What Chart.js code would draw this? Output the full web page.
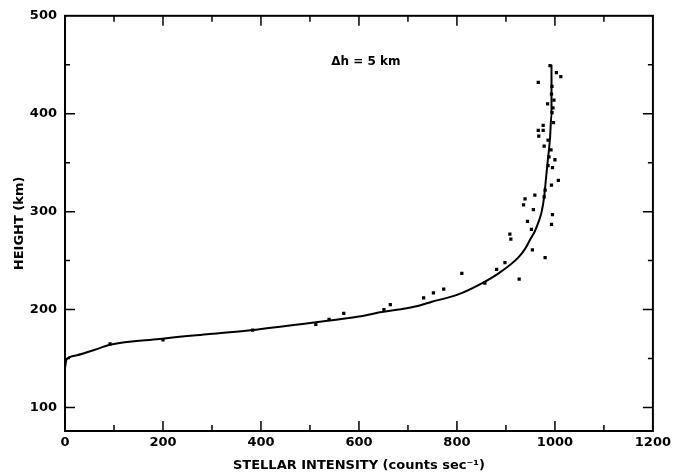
<!DOCTYPE html>
<html>
<head>
<meta charset="utf-8">
<script src="https://cdn.jsdelivr.net/npm/chart.js@4/dist/chart.umd.min.js"></script>
<style>
  html, body { margin: 0; padding: 0; background: #fff; }
  #wrap { width: 675px; height: 473px; }
</style>
</head>
<body>
<div id="wrap"><canvas id="heightChart"></canvas></div>
<script>
// measured points (intensity, height)
const obsX = [990, 1003, 1012, 966, 994, 993, 998, 985, 996, 994, 997, 976, 966, 976, 967, 986, 978, 992, 988, 1000, 986, 995, 1007, 993, 980, 978,
              959, 939, 936, 956, 995, 993, 944, 952, 954, 980, 927, 908, 910, 898, 881, 810, 773, 752, 732,
              857, 664, 651, 569, 539, 512, 383, 200, 92];
const obsY = [449, 442, 438, 432, 428, 420, 414, 410, 406, 401, 391, 388, 383, 383, 377, 373, 367, 363, 356, 353, 347, 345, 332, 327, 322, 315,
              317, 313, 307, 302, 297, 287, 290, 282, 261, 253, 231, 277, 272, 248, 241, 237, 221, 217, 212,
              227, 205, 200, 196, 190, 185, 179, 169, 165];

// fitted curve
const fitX = [0, 3, 17, 58, 92, 193, 295, 390, 512, 600, 647, 681, 722, 749, 800, 844, 885, 925, 939, 950, 959, 967, 973, 978, 981, 985, 990, 993, 993];
const fitY = [140, 149, 152.5, 158.5, 164, 170, 175, 179.5, 187, 193, 197.5, 200, 204, 208, 215, 225, 237, 253, 262, 272, 280, 290, 300, 315, 330, 350, 375, 400, 450];

const xTicks = [0, 200, 400, 600, 800, 1000, 1200];
const yTicks = [100, 200, 300, 400, 500];

const note = { x: 614, y: 453, text: "\u0394h = 5 km" };

const font = "'DejaVu Sans', sans-serif";

// inward ticks on all four sides + label
const framePlugin = {
    id: "frame",
    afterDraw(chart) {
        const ctx = chart.ctx, xs = chart.scales.x, ys = chart.scales.y, a = chart.chartArea;
        ctx.save();
        ctx.strokeStyle = "#000";
        ctx.lineWidth = 2;
        ctx.strokeRect(a.left, a.top, a.right - a.left, a.bottom - a.top);
        ctx.lineWidth = 1.5;
        for (let v = 100; v < 1200; v += 100) {
            const p = xs.getPixelForValue(v), len = v % 200 == 0 ? 10 : 6;
            ctx.beginPath();
            ctx.moveTo(p, a.bottom); ctx.lineTo(p, a.bottom - len);
            ctx.moveTo(p, a.top); ctx.lineTo(p, a.top + len);
            ctx.stroke();
        }
        for (let v = 100; v < 500; v += 50) {
            const p = ys.getPixelForValue(v), len = v % 100 == 0 ? 10 : 5;
            ctx.beginPath();
            ctx.moveTo(a.left, p); ctx.lineTo(a.left + len, p);
            ctx.moveTo(a.right, p); ctx.lineTo(a.right - len, p);
            ctx.stroke();
        }
        ctx.fillStyle = "#000";
        ctx.font = "bold 12px " + font;
        ctx.textAlign = "center";
        ctx.textBaseline = "middle";
        ctx.fillText(note.text, xs.getPixelForValue(note.x), ys.getPixelForValue(note.y));
        ctx.restore();
    }
};

const heightChart = new Chart("heightChart", {
    type: "scatter",
    data: {
        datasets: [{
            label: "fit",
            type: "line",
            data: fitX.map((x, i) => ({ x: x, y: fitY[i] })),
            borderColor: "#000",
            borderWidth: 2,
            pointRadius: 0,
            cubicInterpolationMode: "monotone",
            fill: false
        }, {
            label: "observed",
            data: obsX.map((x, i) => ({ x: x, y: obsY[i] })),
            pointStyle: "rect",
            pointRadius: 2.3,
            backgroundColor: "#000",
            borderColor: "#000",
            borderWidth: 0
        }]
    },
    options: {
        responsive: true,
        maintainAspectRatio: false,
        animation: false,
        layout: { padding: { top: 15, right: 20, left: 12, bottom: 0 } },
        plugins: { legend: { display: false }, tooltip: { enabled: false } },
        scales: {
            x: {
                type: "linear",
                min: 0,
                max: 1200,
                afterBuildTicks: s => { s.ticks = xTicks.map(v => ({ value: v })); },
                afterFit: s => { s.height = 42; },
                grid: { display: false, drawTicks: false },
                border: { display: false },
                ticks: { color: "#000", font: { family: font, size: 13, weight: "bold" }, padding: 4, maxRotation: 0, callback: v => String(v) },
                title: {
                    display: true,
                    text: "STELLAR INTENSITY (counts sec\u207B\u00B9)",
                    color: "#000",
                    font: { family: font, size: 13, weight: "bold" },
                    padding: { top: 2, bottom: 0 }
                }
            },
            y: {
                type: "linear",
                min: 76,
                max: 500,
                afterBuildTicks: s => { s.ticks = yTicks.map(v => ({ value: v })); },
                afterFit: s => { s.width = 53; },
                grid: { display: false, drawTicks: false },
                border: { display: false },
                ticks: { color: "#000", font: { family: font, size: 13, weight: "bold" }, padding: 8 },
                title: {
                    display: true,
                    text: "HEIGHT (km)",
                    color: "#000",
                    font: { family: font, size: 13, weight: "bold" },
                    padding: { top: 0, bottom: 4 }
                }
            }
        }
    },
    plugins: [framePlugin]
});
</script>
</body>
</html>
